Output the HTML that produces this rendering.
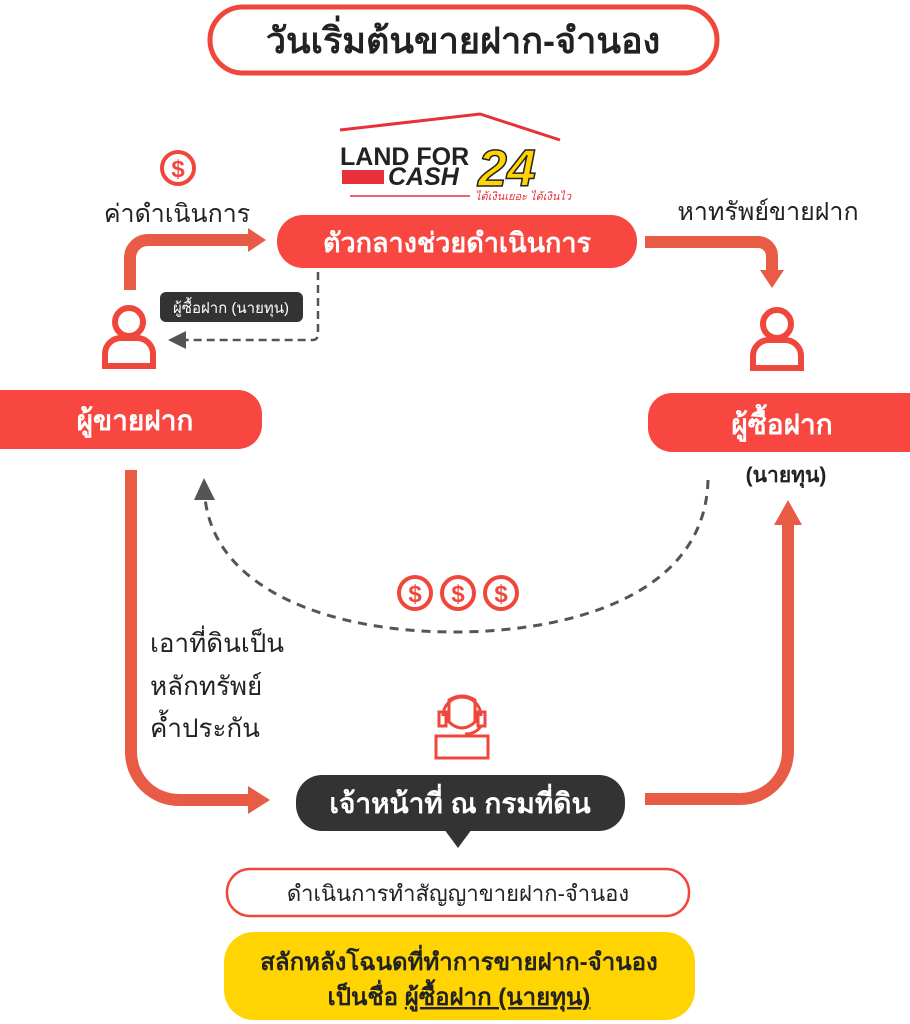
<!DOCTYPE html>
<html><head><meta charset="utf-8"><style>
html,body{margin:0;padding:0;background:#fff;}
svg{display:block}
text{font-family:"Liberation Sans","DejaVu Sans","Noto Sans CJK SC",sans-serif;}
</style></head><body>
<svg width="910" height="1024" viewBox="0 0 910 1024" xmlns="http://www.w3.org/2000/svg">
<defs>
<g id="coin"><circle r="16" fill="#fff" stroke="#f0473c" stroke-width="4"/><text y="9" text-anchor="middle" font-size="24" font-weight="bold" fill="#f0473c">$</text></g>
<g id="person" fill="none" stroke="#f0473c" stroke-width="6"><circle cx="0" cy="-14" r="14"/><path d="M-24 30 V18 a16 16 0 0 1 16 -16 h16 a16 16 0 0 1 16 16 V30 Z"/></g>
</defs>
<rect x="210" y="7" width="507" height="66" rx="33" fill="#fff" stroke="#f0473c" stroke-width="5"/>
<text x="463" y="53" text-anchor="middle" font-size="36" font-weight="bold" fill="#222">วันเริ่มต้นขายฝาก-จำนอง</text>
<path d="M340 130 L480 114 L560 140" fill="none" stroke="#e8303a" stroke-width="3"/>
<text x="340" y="165" font-size="25" font-weight="bold" fill="#222">LAND FOR</text>
<rect x="342" y="170" width="42" height="14" fill="#e8303a"/>
<text x="388" y="185" font-size="25" font-weight="bold" font-style="italic" fill="#222">CASH</text>
<text x="478" y="186" font-size="52" font-weight="bold" font-style="italic" fill="#ffd400" stroke="#222" stroke-width="1.5">24</text>
<line x1="350" y1="196" x2="470" y2="196" stroke="#e8303a" stroke-width="1.5"/>
<text x="475" y="200" font-size="11" font-style="italic" fill="#e8303a">ได้เงินเยอะ ได้เงินไว</text>
<use href="#coin" x="178" y="168"/>
<text x="177" y="222" text-anchor="middle" font-size="25" fill="#222">ค่าดำเนินการ</text>
<rect x="277" y="215" width="360" height="53" rx="26" fill="#f84640"/>
<text x="457" y="252" text-anchor="middle" font-size="27" font-weight="bold" fill="#fff">ตัวกลางช่วยดำเนินการ</text>
<path d="M130 290 V258 a18 18 0 0 1 18 -18 H250" fill="none" stroke="#e85b45" stroke-width="12"/>
<path d="M248 228 L266 240 L248 252 Z" fill="#e85b45"/>
<rect x="160" y="292" width="143" height="30" rx="6" fill="#333"/>
<text x="231" y="313" text-anchor="middle" font-size="15" fill="#fff">ผู้ซื้อฝาก (นายทุน)</text>
<path d="M318 272 V334 q0 6 -6 6 H186" fill="none" stroke="#555" stroke-width="2.5" stroke-dasharray="8 5"/>
<path d="M186 331 L168 340 L186 349 Z" fill="#555"/>
<use href="#person" x="129" y="336"/>
<text x="768" y="220" text-anchor="middle" font-size="25" fill="#222">หาทรัพย์ขายฝาก</text>
<path d="M645 242 H758 a14 14 0 0 1 14 14 V272" fill="none" stroke="#e85b45" stroke-width="12"/>
<path d="M760 270 L772 288 L784 270 Z" fill="#e85b45"/>
<use href="#person" x="777" y="338"/>
<rect x="-30" y="390" width="292" height="59" rx="24" fill="#f84640"/>
<text x="135" y="430" text-anchor="middle" font-size="28" font-weight="bold" fill="#fff">ผู้ขายฝาก</text>
<rect x="648" y="393" width="292" height="59" rx="24" fill="#f84640"/>
<text x="782" y="434" text-anchor="middle" font-size="28" font-weight="bold" fill="#fff">ผู้ซื้อฝาก</text>
<text x="786" y="482" text-anchor="middle" font-size="21" font-weight="bold" fill="#222">(นายทุน)</text>
<path d="M708 480 C705 600 560 632 455 632 C330 632 215 590 205 498" fill="none" stroke="#555" stroke-width="3" stroke-dasharray="9 7"/>
<path d="M194 500 L204 478 L215 500 Z" fill="#555"/>
<use href="#coin" x="415" y="593"/>
<use href="#coin" x="458" y="593"/>
<use href="#coin" x="501" y="593"/>
<text x="150" y="652" font-size="26" fill="#222">เอาที่ดินเป็น</text>
<text x="150" y="695" font-size="26" fill="#222">หลักทรัพย์</text>
<text x="150" y="737" font-size="26" fill="#222">ค้ำประกัน</text>
<path d="M131 470 V752 a48 48 0 0 0 48 48 H252" fill="none" stroke="#e85b45" stroke-width="12"/>
<path d="M248 786 L270 800 L248 814 Z" fill="#e85b45"/>
<g fill="none" stroke="#f0473c" stroke-width="3">
<path d="M443 716 a19 19 0 0 1 38 0"/>
<rect x="439" y="712" width="7" height="14"/><rect x="478" y="712" width="7" height="14"/>
<path d="M449 700 q13 -8 26 0 v22 q-13 12 -26 0 z"/>
<path d="M481 726 q-5 8 -16 8"/>
<rect x="436" y="736" width="52" height="22"/>
</g>
<rect x="296" y="775" width="329" height="56" rx="26" fill="#333"/>
<path d="M444 829 L458 848 L472 829 Z" fill="#333"/>
<text x="460" y="813" text-anchor="middle" font-size="28" font-weight="bold" fill="#fff">เจ้าหน้าที่ ณ กรมที่ดิน</text>
<path d="M645 799 H740 a48 48 0 0 0 48 -48 V515" fill="none" stroke="#e85b45" stroke-width="12"/>
<path d="M774 525 L788 500 L802 525 Z" fill="#e85b45"/>
<rect x="227" y="869" width="462" height="47" rx="23" fill="#fff" stroke="#f0473c" stroke-width="2.5"/>
<text x="458" y="901" text-anchor="middle" font-size="22" fill="#222">ดำเนินการทำสัญญาขายฝาก-จำนอง</text>
<rect x="224" y="932" width="471" height="88" rx="30" fill="#ffd400"/>
<text x="459" y="970" text-anchor="middle" font-size="24" font-weight="bold" fill="#222">สลักหลังโฉนดที่ทำการขายฝาก-จำนอง</text>
<text x="459" y="1005" text-anchor="middle" font-size="24" font-weight="bold" fill="#222">เป็นชื่อ <tspan text-decoration="underline">ผู้ซื้อฝาก (นายทุน)</tspan></text>
</svg>
</body></html>
